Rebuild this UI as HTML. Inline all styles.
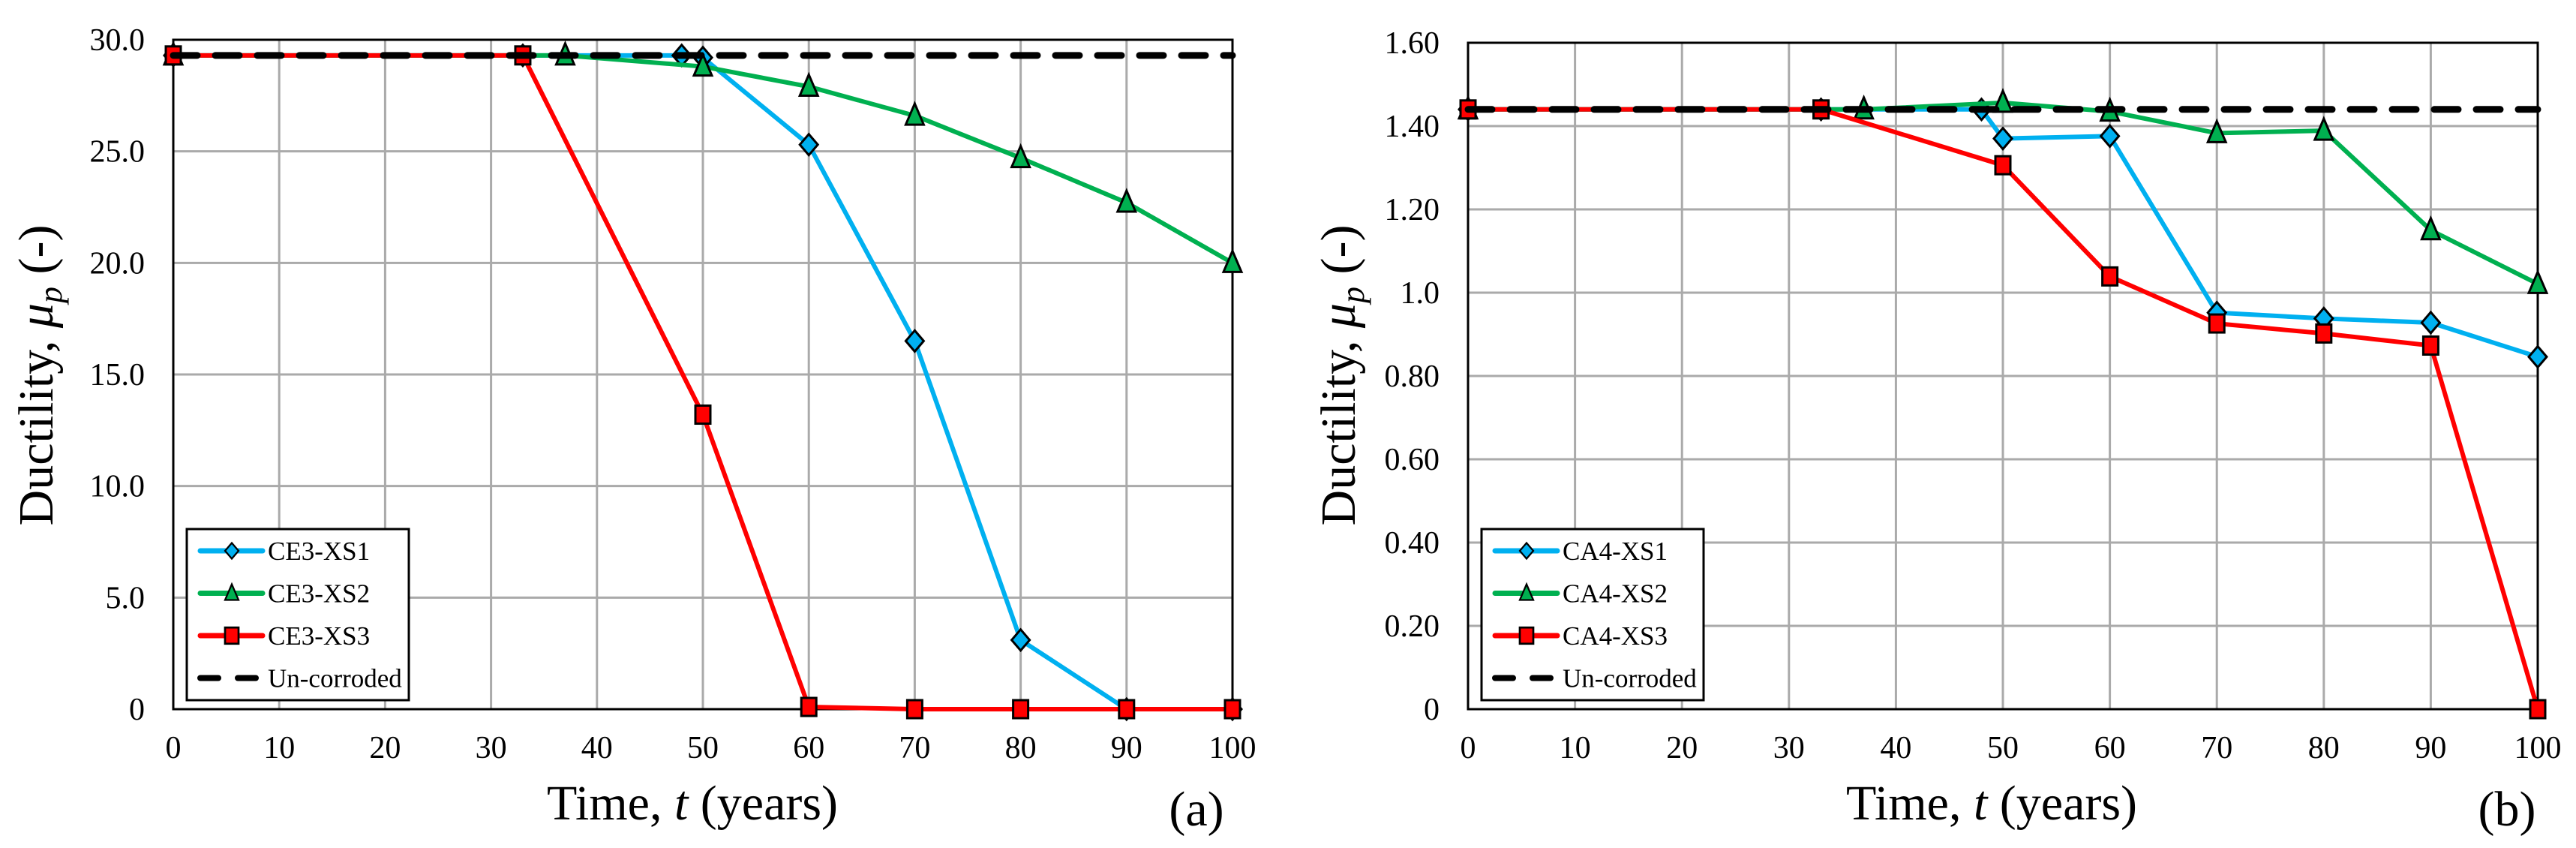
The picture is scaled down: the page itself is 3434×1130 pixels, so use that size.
<!DOCTYPE html>
<html><head><meta charset="utf-8"><style>
html,body{margin:0;padding:0;background:#fff;}
svg{display:block;font-family:"Liberation Serif",serif;}
</style></head><body>
<svg id="chart" width="3434" height="1130" viewBox="0 0 3434 1130" xmlns="http://www.w3.org/2000/svg"></svg>
<script>
const NS="http://www.w3.org/2000/svg";
// ---- data ----
const xTicks=[0,10,20,30,40,50,60,70,80,90,100];
const yTicksA=[0,5,10,15,20,25,30];
const yLabelsA=["0","5.0","10.0","15.0","20.0","25.0","30.0"];
const yTicksB=[0,0.2,0.4,0.6,0.8,1.0,1.2,1.4,1.6];
const yLabelsB=["0","0.20","0.40","0.60","0.80","1.0","1.20","1.40","1.60"];
const timesXS1=[0,33,48,50,60,70,80,90,100];
const timesXS2=[0,37,50,60,70,80,90,100];
const timesXS3=[0,33,50,60,70,80,90,100];
const ce3XS1=[29.3,29.3,29.3,29.2,25.3,16.5,3.1,0,0];
const ce3XS2=[29.3,29.3,28.8,27.9,26.6,24.7,22.7,20.0];
const ce3XS3=[29.3,29.3,13.2,0.1,0,0,0,0];
const ce3Unc=29.3;
const ca4XS1=[1.44,1.44,1.44,1.37,1.376,0.952,0.938,0.928,0.846];
const ca4XS2=[1.44,1.44,1.456,1.435,1.383,1.389,1.15,1.021];
const ca4XS3=[1.44,1.44,1.306,1.039,0.926,0.902,0.873,0];
const ca4Unc=1.44;

const svg=document.getElementById('chart');
function mk(tag,attrs,parent){const e=document.createElementNS(NS,tag);for(const k in attrs)e.setAttribute(k,attrs[k]);(parent||svg).appendChild(e);return e;}

function marker(g,type,x,y,fill){
  let m;
  if(type==='diamond') m=mk('polygon',{points:`${x},${y-14} ${x+12},${y} ${x},${y+14} ${x-12},${y}`,fill:fill,stroke:'#000','stroke-width':3},g);
  else if(type==='triangle') m=mk('polygon',{points:`${x},${y-16} ${x+12},${y+12} ${x-12},${y+12}`,fill:fill,stroke:'#000','stroke-width':3},g);
  else m=mk('rect',{x:x-10,y:y-12,width:20,height:24,fill:fill,stroke:'#000','stroke-width':3},g);
  return m;
}

function panel(cfg){
  const g=mk('g',{});
  
  
  const X=v=>cfg.x0+(v-0)/100*(cfg.x1-cfg.x0);
  const Y=v=>cfg.yb-(v-cfg.ymin)/(cfg.ymax-cfg.ymin)*(cfg.yb-cfg.yt);
  // grid
  xTicks.forEach(t=>{if(t>0&&t<100){const l=mk('line',{x1:X(t),x2:X(t),y1:cfg.yt,y2:cfg.yb,stroke:'#aaaaaa','stroke-width':3},g);
    }});
  cfg.yt_.forEach(t=>{if(t>cfg.ymin&&t<cfg.ymax){const l=mk('line',{x1:cfg.x0,x2:cfg.x1,y1:Y(t),y2:Y(t),stroke:'#aaaaaa','stroke-width':3},g);
    }});
  const fr=mk('rect',{x:cfg.x0,y:cfg.yt,width:cfg.x1-cfg.x0,height:cfg.yb-cfg.yt,fill:'none',stroke:'#000','stroke-width':3},g);
  
  // tick labels
  xTicks.forEach(t=>{const tx=mk('text',{x:X(t),y:cfg.yb+65,'font-size':42,'text-anchor':'middle'},g);tx.textContent=t;
    });
  cfg.yt_.forEach((t,i)=>{const tx=mk('text',{x:cfg.x0-38,y:Y(t)+14,'font-size':42,'text-anchor':'end'},g);tx.textContent=cfg.yl[i];
    });
  // titles
  const xt=mk('text',{x:cfg.xtx,y:1092,'font-size':66,'text-anchor':'middle'},g);
  xt.innerHTML='Time, <tspan font-style="italic">t</tspan> (years)';
  
  const yt=mk('text',{x:0,y:0,'font-size':66,'text-anchor':'middle',transform:`translate(${cfg.ytx},500) rotate(-90)`},g);
  yt.innerHTML='Ductility, <tspan font-style="italic">μ</tspan><tspan font-style="italic" font-size="44" dy="12">p</tspan><tspan dy="-12"> (-)</tspan>';
  
  const pl=mk('text',{x:cfg.plx,y:1100,'font-size':66,'text-anchor':'middle'},g);pl.textContent=cfg.panelLabel;
  
  // series
  const series=[
    {t:timesXS1,v:cfg.s1,c:'#00b0f0',m:'diamond',n:'series-xs1'},
    {t:timesXS2,v:cfg.s2,c:'#00b050',m:'triangle',n:'series-xs2'},
    {t:timesXS3,v:cfg.s3,c:'#ff0000',m:'square',n:'series-xs3'}];
  series.forEach(s=>{
    const sg=mk('g',{},g);
    
    
    const pts=s.t.map((t,i)=>X(t)+','+Y(s.v[i])).join(' ');
    const pln=mk('polyline',{points:pts,fill:'none',stroke:s.c,'stroke-width':6,'stroke-linejoin':'round'},sg);
    
    s.t.forEach((t,i)=>{const mm=marker(sg,s.m,X(t),Y(s.v[i]),s.c);
      });
  });
  const un=mk('line',{x1:X(0),x2:X(100),y1:Y(cfg.unc),y2:Y(cfg.unc),stroke:'#000','stroke-width':9,'stroke-dasharray':'32 24','stroke-linecap':'round'},g);
  
  // legend
  const lg=mk('g',{},g);
  
  
  const lx=cfg.x0+18;
  mk('rect',{x:lx,y:705,width:296,height:228,fill:'#fff',stroke:'#000','stroke-width':3},lg);
  const ents=[[cfg.names[0],'#00b0f0','diamond'],[cfg.names[1],'#00b050','triangle'],[cfg.names[2],'#ff0000','square'],['Un-corroded','#000','dash']];
  ents.forEach((e,i)=>{
    const eg=mk('g',{},lg);
    
    
    const yy=734+i*56.5;
    if(e[2]==='dash'){mk('line',{x1:lx+18,x2:lx+101,y1:yy,y2:yy,stroke:'#000','stroke-width':8,'stroke-dasharray':'24 26','stroke-linecap':'round'},eg);}
    else{mk('line',{x1:lx+18,x2:lx+101,y1:yy,y2:yy,stroke:e[1],'stroke-width':7,'stroke-linecap':'round'},eg);
      const s=e[2]==='square'?0.9:0.75;const mm=marker(eg,e[2],0,0,e[1]);mm.setAttribute('transform',`translate(${lx+60},${yy}) scale(${s})`);}
    const tx=mk('text',{x:lx+108,y:yy+12,'font-size':35},eg);tx.textContent=e[0];
  });
}
panel({name:'chart-a',x0:231,x1:1643,yt:53,yb:945,ymin:0,ymax:30,yt_:yTicksA,yl:yLabelsA,s1:ce3XS1,s2:ce3XS2,s3:ce3XS3,unc:ce3Unc,
  names:['CE3-XS1','CE3-XS2','CE3-XS3'],xtx:923,ytx:70,plx:1595,panelLabel:'(a)'});
panel({name:'chart-b',x0:1957,x1:3383,yt:57,yb:945,ymin:0,ymax:1.6,yt_:yTicksB,yl:yLabelsB,s1:ca4XS1,s2:ca4XS2,s3:ca4XS3,unc:ca4Unc,
  names:['CA4-XS1','CA4-XS2','CA4-XS3'],xtx:2655,ytx:1806,plx:3342,panelLabel:'(b)'});
</script>
</body></html>
